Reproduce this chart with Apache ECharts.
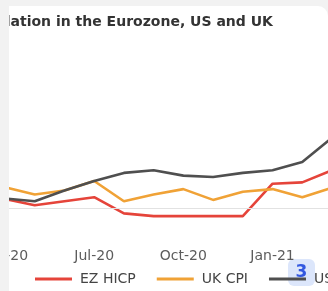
<!DOCTYPE html>
<html>
<head>
<meta charset="utf-8">
<script src="https://cdn.jsdelivr.net/npm/echarts@6/dist/echarts.min.js"></script>
<style>
    html, body { margin: 0; padding: 0; width: 328px; height: 291px; overflow: hidden; background: #f2f2f2; }
    #card { position: absolute; left: 9px; top: 6px; width: 319px; height: 285px; background: #fff;
            border-top-right-radius: 10px; overflow: hidden; }
    #chart { position: absolute; left: -69px; top: -6px; width: 420px; height: 291px; }
</style>
</head>
<body>
<div id="card"><div id="chart"></div></div>
<script>
// months shown in the crop (Apr-20 .. Mar-21)
let months = ['Apr-20', 'May-20', 'Jun-20', 'Jul-20', 'Aug-20', 'Sep-20',
              'Oct-20', 'Nov-20', 'Dec-20', 'Jan-21', 'Feb-21', 'Mar-21'];

// annual inflation, %
let ezHicp = [0.33, 0.1, 0.25, 0.4, -0.2, -0.3, -0.3, -0.3, -0.3, 0.9, 0.95, 1.4];
let ukCpi  = [0.77, 0.5, 0.65, 1.0, 0.25, 0.5, 0.7, 0.3, 0.6, 0.7, 0.4, 0.75];
let usCpi  = [0.35, 0.25, 0.65, 1.0, 1.3, 1.4, 1.2, 1.15, 1.3, 1.4, 1.7, 2.6];

let seriesNames = ['EZ HICP', 'UK CPI', 'US CPI'];
let seriesColors = ['#e5443a', '#f0a236', '#4f4f4f'];

let chart = echarts.init(document.getElementById('chart'));

let lineSeries = function (name, data, color) {
    return {
        name: name,
        type: 'line',
        data: data,
        symbol: 'none',
        lineStyle: { color: color, width: 2.6 },
        itemStyle: { color: color }
    };
};

let series = [
    lineSeries(seriesNames[0], ezHicp, seriesColors[0]),
    lineSeries(seriesNames[1], ukCpi, seriesColors[1]),
    lineSeries(seriesNames[2], usCpi, seriesColors[2])
];
// zero line
series[0].markLine = {
    silent: true,
    symbol: 'none',
    label: { show: false },
    lineStyle: { color: '#e2e2e2', width: 1, type: 'solid' },
    data: [{ yAxis: 0 }]
};

chart.setOption({
    animation: false,
    title: {
        text: 'Inflation in the Eurozone, US and UK',
        left: 45,
        top: 15,
        padding: 0,
        textStyle: { fontFamily: 'DejaVu Sans', fontWeight: 'bold', fontSize: 14, color: '#333' }
    },
    legend: {
        left: 95,
        top: 272,
        padding: 0,
        icon: 'rect',
        itemWidth: 37,
        itemHeight: 3,
        itemGap: 21,
        data: seriesNames,
        textStyle: { fontFamily: 'DejaVu Sans', fontSize: 14, color: '#444', padding: [0, 0, 0, 3] }
    },
    grid: { left: 65, right: 28, top: 73, bottom: 56 },
    xAxis: {
        type: 'category',
        data: months,
        boundaryGap: false,
        axisLine: { show: false },
        axisTick: { show: false },
        axisLabel: { interval: 2, margin: 14, fontFamily: 'DejaVu Sans', fontSize: 14, color: '#5c5c5c' }
    },
    yAxis: {
        type: 'value',
        min: -1,
        max: 5,
        show: false,
        splitLine: { show: false }
    },
    graphic: [{
        type: 'group',
        left: 348,
        top: 259,
        z: 100,
        children: [{
            type: 'rect',
            shape: { x: 0, y: 0, width: 27, height: 27, r: 6 },
            style: { fill: '#dce6fb' }
        }, {
            type: 'text',
            x: 13.5,
            y: 13.5,
            style: { text: '3', fill: '#3358e0', font: 'bold 17px "DejaVu Sans"', align: 'center', verticalAlign: 'middle' }
        }]
    }],
    series: series
});
</script>
</body>
</html>
